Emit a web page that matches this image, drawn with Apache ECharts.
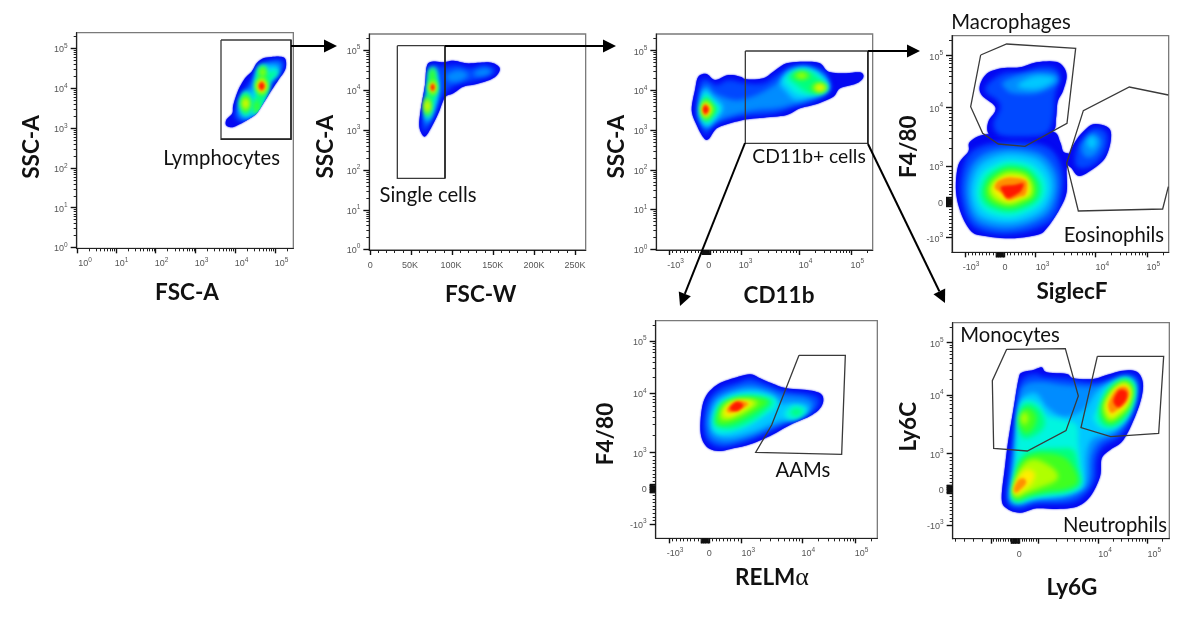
<!DOCTYPE html>
<html><head><meta charset="utf-8">
<style>html,body{margin:0;padding:0;background:#fff}#c{width:1180px;height:636px}</style>
<script src="https://cdn.jsdelivr.net/npm/echarts@6/dist/echarts.min.js"></script>
</head><body><div id="c"></div>
<script>
// ---- data: all values are in display channels of each plot's scale ----
// density contours: [level, x, y, x, y, ...]
const lymphoDensity = [
[0, 678,345,680,328,697,310,700,285,715,240,735,205,755,185,770,160,790,145,825,140,850,142,858,155,855,180,835,210,815,240,790,280,770,310,750,325,720,342,695,352],
[1, 705,320,715,290,735,240,760,200,780,165,820,150,848,152,848,175,820,215,795,260,765,310,730,335],
[2, 712,305,730,255,755,225,778,178,815,158,842,160,840,178,812,218,790,265,762,312,730,328],
[3, 722,298,737,255,757,245,768,195,790,168,822,168,834,180,806,213,794,258,770,308,737,320],
[4, 737,242,757,280,737,318,717,280],
[4, 758,312,755,290,768,250,770,205,776,172,795,165,802,183,828,175,835,192,810,215,800,250,780,300],
[5, 737,248,754,280,737,314,720,280],
[5, 760,305,762,280,772,250,772,205,778,178,795,172,800,195,825,182,828,195,806,212,798,250,778,295],
[6, 737,254,751,280,737,308,723,280],[6, 785,200,805,228,785,256,765,228],[6, 788,167,799,185,788,203,777,185],[6, 770,268,779,290,770,312,761,290],
[7, 737,262,747,280,737,300,727,280],[7, 785,205,800,228,785,251,770,228],[7, 788,175,795,187,788,199,781,187],
[8, 737,268,743,280,737,294,731,280],[8, 785,209,797,228,785,247,773,228],
[9, 785,213,795,228,785,243,775,228],
[10, 785,217,793,228,785,240,777,228]];
const singletDensity = [
[0, 340,378,328,350,332,300,345,225,350,170,365,155,400,157,430,152,470,160,510,158,545,158,568,172,565,190,545,207,500,222,460,230,430,250,405,262,385,310,365,350,350,375],
[1, 340,365,338,340,345,270,355,180,375,165,400,170,440,165,480,175,520,165,550,175,555,188,530,200,490,212,445,222,415,240,395,262,375,300,355,350],
[2, 410,195,445,180,475,195,445,215,415,212],[2, 495,185,525,175,545,185,525,197,495,197],
[2, 345,330,350,270,358,190,375,175,385,200,385,260,370,310,350,345],
[3, 346,325,352,265,360,185,375,178,384,230,372,295,355,330],
[4, 348,318,353,262,362,182,372,182,381,232,368,292,356,322],
[5, 350,312,355,262,362,185,371,185,379,232,366,285,355,315],
[6, 367,172,376,195,367,218,358,195],[6, 368,205,381,232,368,259,355,232],[6, 352,256,363,288,352,320,341,288],
[7, 368,212,378,232,368,252,358,232],[7, 352,266,360,288,352,310,344,288],
[8, 368,216,375,232,368,248,361,232],[8, 352,272,357,288,352,304,347,288],
[9, 368,220,374,232,368,244,362,232],
[10, 368,222,373,232,368,242,363,232]];
const cd11bDensity = [
[0, 275,270,285,210,295,170,320,162,345,180,385,165,420,170,440,178,490,175,520,155,560,130,620,125,660,130,685,155,730,160,780,157,790,172,770,190,720,205,700,230,650,252,600,265,560,285,500,292,440,298,390,310,350,325,325,358,310,352,290,315],
[1, 290,270,300,190,320,178,350,195,385,180,440,190,490,190,530,165,570,140,620,135,670,150,690,185,690,215,640,245,580,262,520,282,440,288,380,300,340,318,318,345,300,310],
[2, 295,270,305,215,320,195,345,220,400,240,440,235,480,220,530,190,570,150,620,145,665,165,685,190,680,215,640,235,590,250,530,265,470,270,400,285,345,305,320,325,300,300],
[3, 298,270,312,208,335,228,370,262,340,305,318,320,303,300],[3, 540,190,565,155,620,142,665,165,685,195,672,218,630,232,585,240,555,212],
[4, 302,270,315,218,335,238,360,265,338,298,318,312],[4, 552,178,600,148,650,160,682,198,665,218,625,226,590,222,565,200],
[5, 306,270,316,228,335,250,352,268,335,292,318,305],[5, 565,170,600,153,640,162,662,182,682,202,660,218,622,218,590,195],
[6, 317,238,343,268,317,300,303,268],[6, 605,155,633,167,605,179,577,167],[6, 655,188,680,203,655,218,630,203],
[7, 317,245,335,268,317,293,306,268],[7, 660,191,679,203,660,215,641,203],[7, 605,159,622,167,605,175,588,167],
[8, 316,248,332,268,316,290,307,268],[8, 660,195,674,203,660,211,646,203],
[9, 316,252,329,268,316,286,308,268],
[10, 316,256,325,268,316,282,309,268]];
const siglecDensity = [
[0, 270,240,292,205,335,190,390,187,440,172,495,170,520,185,530,215,518,260,503,290,498,340,488,380,420,410,330,410,295,385,295,350,315,320,312,300,275,270],
[0, 240,410,290,388,400,395,488,380,510,410,520,440,540,450,530,490,530,560,510,610,470,670,440,690,360,700,280,692,245,680,215,630,198,560,205,480,235,440],
[0, 550,420,575,385,610,358,655,368,663,400,650,450,625,480,570,513,545,490,530,470],
[1, 290,240,340,205,400,200,450,185,495,190,510,220,495,270,490,340,470,385,410,395,330,390,310,355,330,310,320,285,290,265],
[2, 340,230,410,205,490,205,500,235,440,265,370,265,345,250],
[3, 385,238,440,212,495,222,450,250,400,250],
[1, 565,420,610,370,650,385,645,440,610,480,570,490,555,470],
[2, 575,420,610,385,635,410,615,450,585,455],
[3, 605,392,620,412,605,432,590,412],
[1, 360,412,470,425,515,490,515,570,480,650,360,688,250,665,212,570,225,470,270,425],
[2, 360,430,450,445,497,500,500,570,465,635,360,672,260,650,228,570,240,490,285,445],
[3, 360,445,440,460,482,510,485,570,450,625,360,655,270,635,242,570,255,500,295,462],
[4, 360,465,425,478,465,520,468,570,435,612,360,638,285,620,258,570,272,510,310,480],
[5, 360,478,415,490,450,530,452,570,425,600,360,622,295,605,272,570,285,520,318,492],
[6, 360,490,410,500,437,535,437,570,415,592,360,610,305,595,285,565,295,528,325,502],
[7, 360,502,405,510,425,540,425,570,405,582,360,598,315,585,298,560,305,535,330,512],
[8, 360,512,400,518,418,540,415,570,395,578,355,590,325,575,308,555,315,535,335,520],
[9, 330,525,360,517,405,525,412,545,405,570,390,575,355,585,335,565,315,550,318,535],
[10, 333,545,370,540,400,535,395,555,385,565,355,580,340,565]];
const relmDensity = [
[0, 335,300,350,255,385,222,430,205,480,193,510,205,550,222,590,235,650,240,690,250,700,270,690,295,660,318,600,345,540,378,480,403,430,415,385,423,350,410,332,370],
[1, 345,300,360,262,395,232,440,218,480,205,520,218,560,235,600,245,650,250,685,262,685,290,650,315,600,335,530,370,470,395,400,412,360,400,342,365],
[2, 355,310,375,265,420,240,480,225,540,240,580,255,640,262,670,280,655,310,610,328,550,350,480,380,410,398,365,385,352,350],
[3, 362,330,380,275,430,250,490,240,545,255,570,280,600,280,650,285,650,305,610,325,560,335,490,365,420,382,375,370],
[4, 368,340,385,285,430,255,500,250,555,265,560,290,520,320,470,350,410,370,375,365],[4, 585,305,615,285,650,300,620,328,590,325],
[5, 372,330,390,285,435,262,495,258,545,270,540,290,490,330,430,355,385,350],[5, 600,307,617,293,640,305,617,320],
[6, 380,325,395,285,440,265,490,262,535,275,490,310,430,340,385,345],
[7, 390,320,405,285,440,270,490,272,505,278,470,305,425,325,400,330],
[8, 400,310,415,285,445,272,490,275,465,295,420,320],
[9, 410,300,425,282,450,272,475,282,450,298,420,308],
[10, 420,292,440,275,460,285,445,302,425,302]];
const ly6Density = [
[0, 385,210,395,188,430,180,455,172,470,187,530,192,550,205,610,207,650,195,700,182,740,185,758,215,755,260,735,320,700,390,660,420,635,445,630,500,600,560,560,590,500,597,440,595,390,608,350,595,335,565,345,470,355,390,370,300],
[1, 392,215,430,192,465,200,530,205,620,217,700,192,745,205,745,265,725,325,690,380,640,410,620,450,615,510,585,555,540,580,440,583,385,598,350,575,355,490,365,400,378,300],
[2, 395,235,440,215,530,225,620,228,700,202,735,220,735,265,715,325,680,370,630,395,605,440,600,510,575,545,520,568,440,572,385,585,358,565,365,480,375,400,385,300],
[3, 400,260,440,250,470,290,520,320,580,300,625,240,700,208,730,230,725,280,700,335,660,370,610,385,590,430,585,520,560,540,500,558,440,563,390,575,365,560,375,470,380,380,385,300],
[4, 380,390,388,300,405,270,445,280,470,315,520,330,560,345,565,400,570,450,575,525,540,550,480,558,430,565,385,578,362,562,375,470],
[4, 620,300,645,240,700,203,735,218,735,270,710,325,670,355,630,352,610,325],
[5, 385,340,395,290,420,280,450,300,465,340,445,370,400,385],
[5, 368,560,378,480,395,440,430,420,500,415,550,420,565,475,572,522,530,545,470,552,420,562,385,575],
[5, 628,295,655,238,700,208,730,225,727,280,700,330,665,350,632,338],
[6, 388,340,400,300,420,295,440,320,430,355,405,370],
[6, 370,556,382,480,405,445,450,430,520,440,555,480,562,520,525,538,470,545,420,555,385,568],
[6, 636,290,660,240,700,213,728,232,720,285,695,322,660,342,640,325],
[7, 403,305,415,325,403,345,391,325],
[7, 370,545,385,490,410,455,445,450,495,480,500,510,445,535,400,552,380,560],
[7, 642,285,665,245,702,218,724,238,716,285,690,315,660,332,646,315],
[8, 370,540,385,500,410,478,435,490,425,520,395,545,378,555],
[8, 648,285,672,240,704,222,722,245,712,282,685,308,662,322],
[9, 372,535,385,510,402,505,408,520,390,540,377,548],
[9, 655,280,680,238,706,230,718,250,706,280,678,302,662,308],
[10, 670,272,688,240,710,245,708,270,685,292]];
// gates (open polylines; repeat the first vertex to close)
const lymphoGate = [[663,90,873,90,873,388,663,388,663,90]];
const singletGate = [[262,107,405,107,405,505,262,505,262,107]];
const cd11bGate = [[436,93,803,93,803,370,436,370,436,93]];
const siglecGates = [[272,150,350,117,557,130,531,355,405,424,325,417,278,385,242,305,272,150],
                     [835,270,718,246,580,317,530,475,565,618,818,612,835,545]];
const relmGate = [[627,136,766,136,755,433,497,427,545,345,627,136]];
const ly6Gates = [[350,118,526,116,565,258,528,362,412,423,311,415,307,212,350,118],
                  [622,139,821,139,806,370,662,380,573,353,622,139]];
// axis ticks
const logLabels = ['10^0','10^1','10^2','10^3','10^4','10^5'];
const biexLabels = ['-10^3','0','10^3','10^4','10^5'];
const wLabels = ['0','50K','100K','150K','200K','250K'];
const ly6xLabels = ['0','10^4','10^5'];
// ---- layout and style ----
const levelColors = ['#0408f2','#0048ff','#008cff','#00c8ff','#00f5e0','#00ff80','#40ff20','#b0ff00','#ffee00','#ff9000','#ff1800'];
const panels = [
 {crop:[0,10], x:[230,880], y:[68,715], density:lymphoDensity, gates:lymphoGate,
  xMaj:[232,348,467,587,706,825], xMode:'log', xLab:[255,365,485,605,725,845], xText:logLabels,
  yMaj:[712,593,475,355,235,115], yMode:'log', yText:logLabels},
 {crop:[310,10], x:[178,827], y:[72,720], density:singletDensity, gates:singletGate,
  xMaj:[180,303,426,549,672,795], xMode:'lin', xLab:[181,300,423,548,672,795], xText:wLabels,
  yMaj:[717,600,480,360,240,120], yMode:'log', yText:logLabels},
 {crop:[600,20], x:[169,818], y:[42,690], density:cd11bDensity, gates:cd11bGate,
  xMaj:[207,318,423,597,755], xMode:'biex', xLab:[227,326,437,617,772], xText:biexLabels,
  yMaj:[688,568,450,330,211,92], yMode:'log', yText:logLabels},
 {crop:[890,5], x:[186,836], y:[92,742], density:siglecDensity, gates:siglecGates,
  xMaj:[225,330,437,615,772], xMode:'biex', xLab:[243,345,458,637,790], xText:biexLabels,
  yMaj:[698,590,484,308,152], yMode:'biex', yText:biexLabels},
 {crop:[590,310], x:[197,862], y:[32,685], density:relmDensity, gates:relmGate,
  xMaj:[237,345,455,637,797], xMode:'biex', xLab:[255,358,475,655,815], xText:biexLabels,
  yMaj:[642,535,428,250,93], yMode:'biex', yText:biexLabels},
 {crop:[890,310], x:[188,838], y:[38,686], density:ly6Density, gates:ly6Gates,
  xMaj:[303,375,445,625,772], xMode:'ly6', xLab:[388,645,793], xText:ly6xLabels,
  yMaj:[645,537,431,255,98], yMode:'biex', yText:biexLabels}
];
const texts = [
 ['FSC-A',187,293,1],['SSC-A',32,147,1,90],['Lymphocytes',221.7,158,0],
 ['FSC-W',480.7,295,1],['SSC-A',325.7,146.7,1,90],['Single cells',428,195.7,0],
 ['CD11b',779,296,1],['SSC-A',616.7,146.7,1,90],['CD11b+ cells',809,157,0,0,19.3],
 ['SiglecF',1072,291.7,1],['F4/80',909,146.7,1,90],['Macrophages',1011,22.3,0],['Eosinophils',1114,235.7,0],
 ['F4/80',605.7,434,1,90],['AAMs',803,470.7,0],
 ['Ly6G',1072,588,1],['Ly6C',909,426.7,1,90],['Monocytes',1010,335,0],['Neutrophils',1115,525,0]
];
const arrows = [
 [[291,46],[337,46]],
 [[445,46],[616,46]],
 [[868,51],[920,51]],
 [[745,143],[680,306]],
 [[868,144],[945,303]]
];
const darkEdges = [
 [[291,40],[291,139],[221,139]],
 [[445,46],[445,178]],
 [[868,51],[868,144]]
];
function logMinors(maj){ // maj listed from low value to high value
  const out=[];
  for(let i=0;i<maj.length-1;i++){for(let k=2;k<10;k++)out.push(maj[i]+Math.log10(k)*(maj[i+1]-maj[i]));}
  return out;
}
function linearZone(a,z,b){ // around zero: even steps
  const o=[];
  for(let i=1;i<10;i++){o.push(a+(z-a)*i/10);o.push(z+(b-z)*i/10);}
  return o;
}
function minorsFor(maj,mode){
  const n=maj.length, tail=logMinors([maj[n-1],2*maj[n-1]-maj[n-2]]);
  if(mode==='lin'){const o=[];for(let i=0;i<n-1;i++){const st=(maj[i+1]-maj[i])/5;for(let k=1;k<5;k++)o.push(maj[i]+k*st);}return o;}
  if(mode==='log')return logMinors(maj).concat(tail);
  const o=logMinors(maj.slice(2)).concat(linearZone(maj[0],maj[1],maj[2]),tail);
  if(mode==='ly6')for(let i=1;i<=4;i++)o.push(maj[0]-i*27);
  return o;
}
function majorsFor(maj,mode){ // biexponential axes have a solid clump of ticks at zero
  if(mode==='log'||mode==='lin')return maj;
  const o=maj.slice();
  for(let i=-6;i<=6;i++)if(i!==0)o.push(maj[1]+i*2.1);
  return o;
}
const rich={a:{fontSize:9,color:'#555',fontFamily:'Liberation Sans',verticalAlign:'bottom',lineHeight:12},
            s:{fontSize:6.5,color:'#555',fontFamily:'Liberation Sans',verticalAlign:'top',lineHeight:12}};
function richLabel(t){
  if(!t.includes('^'))return '{a|'+t+'}';
  const [b,e]=t.split('^');return '{a|'+b+'}{s|'+e+'}';
}
function spline(p,n){
  const out=[],m=p.length;
  for(let i=0;i<m;i++){
    const a=p[(i-1+m)%m],b=p[i],c=p[(i+1)%m],d=p[(i+2)%m];
    for(let j=0;j<n;j++){const t=j/n,t2=t*t,t3=t2*t;
      out.push([0,1].map(q=>0.5*(2*b[q]+(c[q]-a[q])*t+(2*a[q]-5*b[q]+4*c[q]-d[q])*t2+(3*b[q]-a[q]-3*c[q]+d[q])*t3)));}
  }
  return out;
}
const OFF=3000;
const grid=[],xAxis=[],yAxis=[],series=[];
panels.forEach((p,i)=>{
  const [cx,cy]=p.crop;
  grid.push({show:true,borderColor:'#7a7a7a',borderWidth:1.3,backgroundColor:'#fff',
    left:cx+p.x[0]/3,top:cy+p.y[0]/3,width:(p.x[1]-p.x[0])/3,height:(p.y[1]-p.y[0])/3});
  const line={show:true,onZero:false,lineStyle:{color:'#222',width:1.2}};
  const xPos=p.xLab, xFmt=v=>{const k=xPos.indexOf(v);return k<0?'':richLabel(p.xText[k]);};
  const inX=v=>v>=p.x[0]&&v<=p.x[1], inY=v=>v>=p.y[0]&&v<=p.y[1];
  xAxis.push({type:'value',gridIndex:i,min:p.x[0],max:p.x[1],position:'bottom',splitLine:{show:false},axisLine:line,
    axisTick:{show:true,customValues:majorsFor(p.xMaj,p.xMode),length:5,lineStyle:{color:'#111',width:1.4}},
    axisLabel:{show:true,customValues:p.xLab,formatter:xFmt,rich,margin:8,hideOverlap:false}});
  xAxis.push({type:'value',gridIndex:i,min:p.x[0],max:p.x[1],position:'bottom',splitLine:{show:false},axisLine:{show:false,onZero:false},
    axisTick:{show:true,customValues:minorsFor(p.xMaj,p.xMode).filter(inX),length:3,lineStyle:{color:'#222',width:1}},
    axisLabel:{show:false}});
  const yFmt=v=>{const k=p.yMaj.indexOf(v);return k<0?'':richLabel(p.yText[k]);};
  yAxis.push({type:'value',gridIndex:i,min:p.y[0],max:p.y[1],inverse:true,position:'left',splitLine:{show:false},axisLine:line,
    axisTick:{show:true,customValues:majorsFor(p.yMaj,p.yMode),length:6,lineStyle:{color:'#111',width:1.4}},
    axisLabel:{show:true,customValues:p.yMaj,formatter:yFmt,rich,margin:9,hideOverlap:false}});
  yAxis.push({type:'value',gridIndex:i,min:p.y[0],max:p.y[1],inverse:true,position:'left',splitLine:{show:false},axisLine:{show:false,onZero:false},
    axisTick:{show:true,customValues:minorsFor(p.yMaj,p.yMode).filter(inY),length:3,lineStyle:{color:'#222',width:1}},
    axisLabel:{show:false}});
  const toPts=a=>{const o=[];for(let k=0;k<a.length;k+=2)o.push([a[k],a[k+1]]);return o;};
  series.push({type:'custom',name:'density '+i,xAxisIndex:i*2,yAxisIndex:i*2,silent:true,clip:false,animation:false,z:2,
    data:p.density.map(c=>[c[1],c[2],c[0]]),encode:{x:0,y:1},
    renderItem(params,api){
      const c=p.density[params.dataIndex],lvl=c[0],col=levelColors[lvl];
      const pts=spline(toPts(c.slice(1)),6).map(q=>api.coord(q));
      if(lvl===0)return {type:'polygon',shape:{points:pts},style:{fill:col,shadowBlur:2,shadowColor:col}};
      // inner levels: only the blurred shadow of the contour shows, kept inside the outermost contour
      const outer=p.density.filter(d=>d[0]===0).map(d=>{
        const q=spline(toPts(d.slice(1)),6).map(v=>api.coord(v));
        return 'M'+q.map(v=>v[0].toFixed(1)+' '+v[1].toFixed(1)).join('L')+'Z';
      }).join('');
      return {type:'group',clipPath:{type:'path',shape:{pathData:outer}},children:[
        {type:'polygon',x:-OFF,shape:{points:pts},
         style:{fill:col,shadowColor:col,shadowBlur:lvl>=9?3:5,shadowOffsetX:OFF}}]};
    }});
  series.push({type:'custom',name:'gates '+i,xAxisIndex:i*2,yAxisIndex:i*2,silent:true,clip:false,animation:false,z:3,
    data:p.gates.map(g=>[g[0],g[1]]),encode:{x:0,y:1},
    renderItem(params,api){
      const pts=toPts(p.gates[params.dataIndex]).map(q=>api.coord(q));
      return {type:'polyline',shape:{points:pts},style:{fill:'none',stroke:'#3a3a3a',lineWidth:1.3}};
    }});
});
const graphic=[];
texts.forEach(t=>{
  graphic.push({type:'text',x:t[1],y:t[2],rotation:t[4]?Math.PI/2:0,z:10,silent:true,
    style:{text:t[0],x:0,y:0,align:'center',verticalAlign:'middle',fill:'#111',
      font:(t[3]?'bold 22.5px':(t[5]||20.3)+'px')+' Lato'}});
});
graphic.push({type:'text',x:772,y:578,z:10,silent:true,style:{
  text:'{b|RELM}{g|α}',align:'center',verticalAlign:'middle',
  rich:{b:{font:'bold 22.5px Lato',fill:'#111'},g:{font:'26px "Liberation Serif"',fill:'#111'}}}});
darkEdges.forEach(e=>graphic.push({type:'polyline',z:9,silent:true,shape:{points:e},style:{fill:'none',stroke:'#222',lineWidth:1.5}}));
arrows.forEach(([a,b])=>{
  const ang=Math.atan2(b[1]-a[1],b[0]-a[0]),L=13,W=6.5;
  const base=[b[0]-L*Math.cos(ang),b[1]-L*Math.sin(ang)];
  graphic.push({type:'line',z:9,silent:true,shape:{x1:a[0],y1:a[1],x2:base[0],y2:base[1]},style:{stroke:'#000',lineWidth:2}});
  graphic.push({type:'polygon',z:9,silent:true,shape:{points:[b,
    [base[0]-W*Math.sin(ang),base[1]+W*Math.cos(ang)],
    [base[0]+W*Math.sin(ang),base[1]-W*Math.cos(ang)]]},style:{fill:'#000'}});
});
const chart=echarts.init(document.getElementById('c'),null,{renderer:'canvas'});
chart.setOption({animation:false,backgroundColor:'#fff',grid,xAxis,yAxis,series,graphic});
</script></body></html>
